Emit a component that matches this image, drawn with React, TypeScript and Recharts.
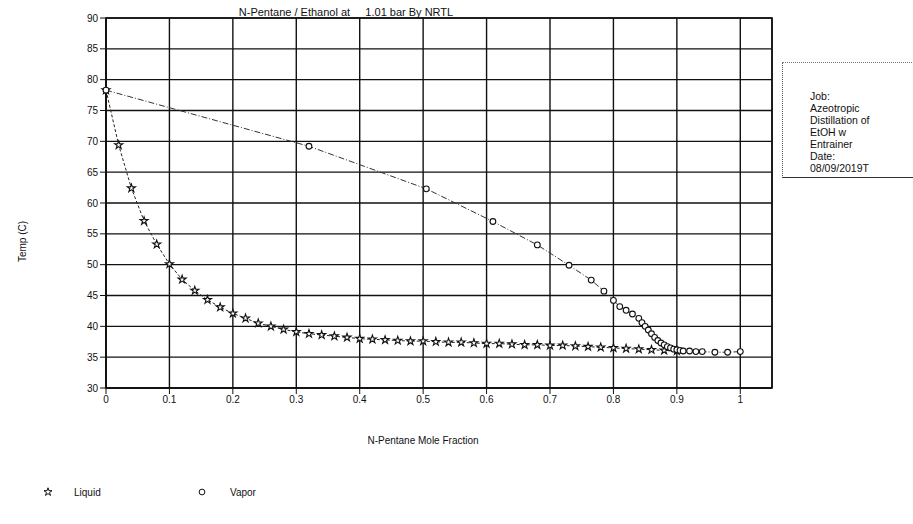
import React from 'react';
import {
  ScatterChart,
  Scatter,
  XAxis,
  YAxis,
  CartesianGrid,
  ReferenceArea,
  Symbols,
} from 'recharts';

// liquid (bubble point) curve, x = n-pentane mole fraction in liquid
const liquidX = [
  0, 0.02, 0.04, 0.06, 0.08, 0.1, 0.12, 0.14, 0.16, 0.18, 0.2, 0.22, 0.24, 0.26, 0.28, 0.3,
  0.32, 0.34, 0.36, 0.38, 0.4, 0.42, 0.44, 0.46, 0.48, 0.5, 0.52, 0.54, 0.56, 0.58, 0.6, 0.62,
  0.64, 0.66, 0.68, 0.7, 0.72, 0.74, 0.76, 0.78, 0.8, 0.82, 0.84, 0.86, 0.88, 0.9,
];
const liquidT = [
  78.3, 69.4, 62.4, 57.1, 53.3, 50.1, 47.6, 45.8, 44.3, 43.1, 42.1, 41.3, 40.5, 40.0, 39.5, 39.1,
  38.8, 38.6, 38.4, 38.2, 38.0, 37.9, 37.8, 37.7, 37.6, 37.6, 37.5, 37.4, 37.4, 37.3, 37.2, 37.2,
  37.1, 37.0, 37.0, 36.9, 36.9, 36.8, 36.7, 36.6, 36.5, 36.4, 36.3, 36.2, 36.1, 36.0,
];

// vapor (dew point) curve
const vaporX = [
  0, 0.32, 0.505, 0.61, 0.68, 0.73, 0.765, 0.785, 0.8, 0.81, 0.82, 0.83, 0.84, 0.845, 0.85,
  0.855, 0.86, 0.865, 0.87, 0.875, 0.88, 0.885, 0.89, 0.895, 0.9, 0.905, 0.91, 0.92, 0.93, 0.94,
  0.96, 0.98, 1.0,
];
const vaporT = [
  78.3, 69.2, 62.3, 57.0, 53.2, 49.9, 47.5, 45.7, 44.2, 43.2, 42.6, 42.0, 41.3, 40.6, 40.0,
  39.4, 38.8, 38.2, 37.7, 37.3, 37.0, 36.7, 36.5, 36.3, 36.2, 36.1, 36.0, 36.0, 35.9, 35.9,
  35.8, 35.8, 35.9,
];

const xTicks = [0, 0.1, 0.2, 0.3, 0.4, 0.5, 0.6, 0.7, 0.8, 0.9, 1];
const yTicks = [30, 35, 40, 45, 50, 55, 60, 65, 70, 75, 80, 85, 90];

const noteLines = ['Job:', 'Azeotropic', 'Distillation of', 'EtOH w', 'Entrainer', 'Date:', '08/09/2019T'];

const liquid = liquidX.map((x, i) => ({ x, t: liquidT[i] }));
const vapor = vaporX.map((x, i) => ({ x, t: vaporT[i] }));

const FONT = '"Liberation Sans", Arial, sans-serif';
const INK = '#111';

const StarDot = (props: any) => (
  <Symbols cx={props.cx} cy={props.cy} type="star" size={20} fill="#fff" stroke={INK} strokeWidth={1.1} />
);
const CircleDot = (props: any) => (
  <Symbols cx={props.cx} cy={props.cy} type="circle" size={26} fill="#fff" stroke={INK} strokeWidth={1.1} />
);

const App: React.FC = () => {
  return (
    <div
      style={{
        position: 'absolute',
        left: 0,
        top: 0,
        width: 913,
        height: 524,
        background: '#fff',
        fontFamily: FONT,
        color: INK,
      }}
    >
      <ScatterChart width={913} height={524} margin={{ top: 18, right: 141, bottom: 106, left: 0 }}>
        <CartesianGrid stroke={INK} strokeWidth={1.4} />
        <XAxis
          dataKey="x"
          type="number"
          domain={[0, 1.05]}
          ticks={xTicks}
          interval={0}
          height={30}
          tickSize={6}
          stroke={INK}
          tick={{ fontSize: 10, fill: INK, fontFamily: FONT }}
          axisLine={{ stroke: INK, strokeWidth: 1.5 }}
        />
        <YAxis
          dataKey="t"
          type="number"
          domain={[30, 90]}
          ticks={yTicks}
          interval={0}
          width={106}
          tickSize={6}
          stroke={INK}
          tick={{ fontSize: 10, fill: INK, fontFamily: FONT }}
          axisLine={{ stroke: INK, strokeWidth: 1.5 }}
        />
        <ReferenceArea x1={0} x2={1.05} y1={30} y2={90} fill="none" stroke={INK} strokeWidth={1.6} ifOverflow="visible" />
        <Scatter
          name="Liquid"
          data={liquid}
          shape={StarDot}
          line={{ stroke: '#222', strokeWidth: 1, strokeDasharray: '3 2' }}
          isAnimationActive={false}
        />
        <Scatter
          name="Vapor"
          data={vapor}
          shape={CircleDot}
          line={{ stroke: '#333', strokeWidth: 1, strokeDasharray: '6 2 1 2' }}
          isAnimationActive={false}
        />
      </ScatterChart>

      <div
        style={{
          position: 'absolute',
          left: 106,
          width: 480,
          top: 6,
          textAlign: 'center',
          fontSize: 11,
          whiteSpace: 'pre',
        }}
      >
        {'N-Pentane / Ethanol at     1.01 bar By NRTL'}
      </div>

      <div
        style={{
          position: 'absolute',
          left: 106,
          width: 634,
          top: 435,
          textAlign: 'center',
          fontSize: 10,
        }}
      >
        N-Pentane Mole Fraction
      </div>

      <div
        style={{
          position: 'absolute',
          left: -18,
          top: 236,
          width: 80,
          textAlign: 'center',
          fontSize: 10,
          transform: 'rotate(-90deg)',
        }}
      >
        Temp (C)
      </div>

      <div
        style={{
          position: 'absolute',
          left: 782,
          top: 62,
          width: 140,
          height: 116,
          overflow: 'hidden',
          borderLeft: '1px dotted #555',
          borderTop: '1px dotted #777',
          borderBottom: '1px solid #333',
          fontSize: 10.5,
          lineHeight: '12px',
          boxSizing: 'border-box',
        }}
      >
        <div style={{ paddingLeft: 27, paddingTop: 27 }}>
          {noteLines.map((l) => (
            <div key={l}>{l}</div>
          ))}
        </div>
      </div>

      <div
        style={{
          position: 'absolute',
          left: 42,
          top: 486,
          display: 'flex',
          alignItems: 'center',
          fontSize: 10,
        }}
      >
        <svg width={12} height={12}>
          <Symbols cx={6} cy={6} type="star" size={20} fill="#fff" stroke={INK} />
        </svg>
        <span style={{ marginLeft: 20, width: 122 }}>Liquid</span>
        <svg width={12} height={12}>
          <Symbols cx={6} cy={6} type="circle" size={26} fill="#fff" stroke={INK} />
        </svg>
        <span style={{ marginLeft: 22 }}>Vapor</span>
      </div>
    </div>
  );
};

export default App;
